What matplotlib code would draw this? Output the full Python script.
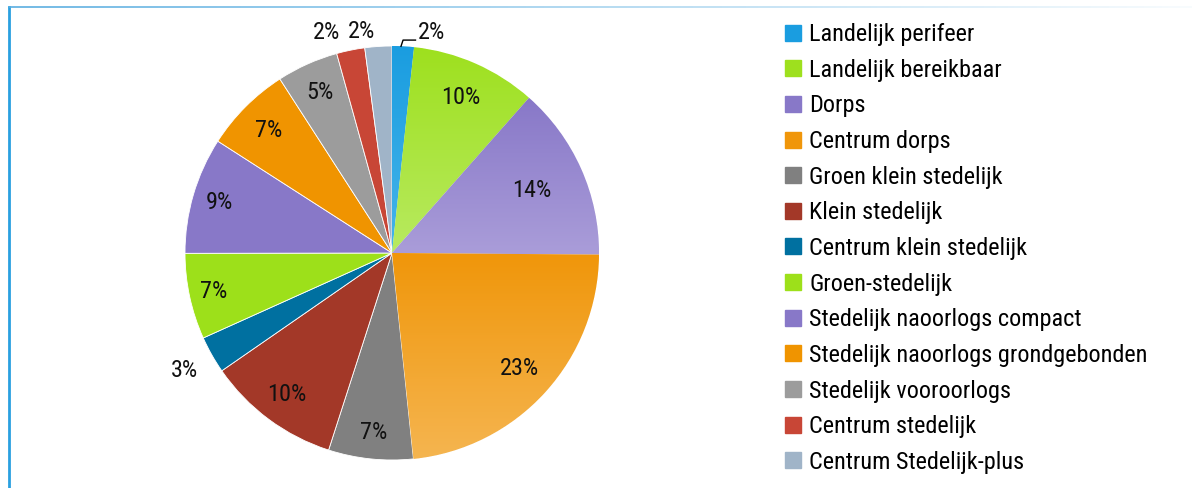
import matplotlib
matplotlib.use("Agg")

import matplotlib.pyplot as plt
import numpy as np
from matplotlib import font_manager
from matplotlib.colors import LinearSegmentedColormap
from matplotlib.lines import Line2D
from matplotlib.collections import LineCollection

# Chart data
categories = [
    "Landelijk perifeer",
    "Landelijk bereikbaar",
    "Dorps",
    "Centrum dorps",
    "Groen klein stedelijk",
    "Klein stedelijk",
    "Centrum klein stedelijk",
    "Groen-stedelijk",
    "Stedelijk naoorlogs compact",
    "Stedelijk naoorlogs grondgebonden",
    "Stedelijk vooroorlogs",
    "Centrum stedelijk",
    "Centrum Stedelijk-plus",
]
shares = [1.7, 9.8, 13.6, 23.2, 6.6, 10.4, 2.9, 6.7, 9.1, 6.8, 4.8, 2.2, 2.1]

colors = [
    "#1a9de0", "#9ee01e", "#8878c8", "#f0960a", "#808080", "#a33828", "#0070a0",
    "#9de01a", "#8878c8", "#f09400", "#9c9c9c", "#c84636", "#a0b4c8",
]
# lighter bottom colour for the slices drawn with a vertical gradient
gradient_bottom = {0: "#45b4ea", 1: "#b8ea60", 2: "#aa9dd9", 3: "#f5b550"}

# where each percentage sits, as a fraction of the radius
label_dist = [1.08, 0.82, 0.74, 0.83, 0.87, 0.85, 1.15, 0.88, 0.87, 0.84, 0.85, 1.11, 1.08]
# small angular nudges (degrees) for the crowded outside labels
label_shift = [-7, 0, 0, 0, 0, 0, 0, 0, 0, 0, 0, 5, 4]


def pick_font():
    names = {f.name for f in font_manager.fontManager.ttflist}
    for name in ["Liberation Sans Narrow", "Roboto Condensed", "Liberation Sans"]:
        if name in names:
            return name
    return "DejaVu Sans"


FONT = pick_font()
plt.rcParams["font.family"] = [FONT, "DejaVu Sans"]
TEXT_SIZE = 17.5 if "Narrow" in FONT or "Condensed" in FONT else 14.5

fig = plt.figure(figsize=(11.92, 4.88), dpi=100)
W, H = 1192, 488

# pie centre (392, 253) px, radius 207 px
cx, cy, r = 392, 253, 207
ax = fig.add_axes([(cx - r) / W, (H - cy - r) / H, 2 * r / W, 2 * r / H])

wedges, _ = ax.pie(shares, colors=colors, startangle=90, counterclock=False,
                   wedgeprops=dict(linewidth=0.6, edgecolor="white"))

for i, w in enumerate(wedges):
    if i in gradient_bottom:
        ext = w.get_path().get_extents()
        cmap = LinearSegmentedColormap.from_list("g", [colors[i], gradient_bottom[i]])
        grad = np.linspace(0, 1, 256).reshape(-1, 1)
        im = ax.imshow(grad, cmap=cmap, aspect="auto",
                       extent=(ext.x0, ext.x1, ext.y0, ext.y1), origin="upper",
                       zorder=w.get_zorder() + 0.1)
        im.set_clip_path(w)

for i, w in enumerate(wedges):
    mid = np.deg2rad((w.theta1 + w.theta2) / 2 + label_shift[i])
    x = label_dist[i] * np.cos(mid)
    y = label_dist[i] * np.sin(mid)
    ax.text(x, y, f"{shares[i]:.0f}%", ha="center", va="center",
            fontsize=TEXT_SIZE, color="#111111", zorder=5)

# leader line for the smallest slice at the top
w0 = wedges[0]
a0 = np.deg2rad((w0.theta1 + w0.theta2) / 2)
ex, ey = np.cos(a0), np.sin(a0)
ax.plot([ex - 0.01, ex, ex + 0.06], [ey, ey + 0.03, ey + 0.03],
        color="black", lw=1, zorder=5, clip_on=False)

ax.set_xlim(-1, 1)
ax.set_ylim(-1, 1)
ax.set_aspect("equal")
ax.axis("off")

handles = [Line2D([0], [0], marker="s", linestyle="none", markersize=11,
                  markerfacecolor=c, markeredgecolor=c) for c in colors]
fig.legend(handles, categories, loc="upper left",
           bbox_to_anchor=(772 / W, 1 - 11 / H), frameon=False,
           fontsize=TEXT_SIZE, handlelength=0.73, handletextpad=0.3,
           labelspacing=0.52, borderpad=0)

# frame lines: solid on the left, fading along the top
fig.add_artist(Line2D([9 / W, 9 / W], [0, 1 - 7 / H], color="#2aa0e0", lw=2))
xs = np.linspace(9 / W, 1, 200)
segs = [[(xs[k], 1 - 7 / H), (xs[k + 1], 1 - 7 / H)] for k in range(len(xs) - 1)]
alphas = np.linspace(1, 0.05, len(segs))
seg_colors = [(0.35, 0.68, 0.88, a) for a in alphas]
fig.add_artist(LineCollection(segs, colors=seg_colors, linewidths=1.2,
                              transform=fig.transFigure))

fig.savefig("out.png", dpi=100)
